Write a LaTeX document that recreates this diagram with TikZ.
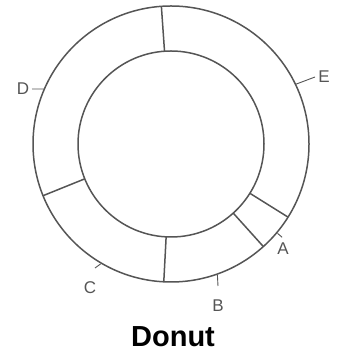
\documentclass[tikz,border=0pt]{standalone}
\usepackage{fontspec}
\usepackage{tikz}
\newfontfamily\donutfont{Liberation Sans}
\definecolor{DonutInk}{HTML}{555555}
\tikzset{
  ring/.style={DonutInk,line width=1.5pt},
  tickline/.style={DonutInk,line width=0.9pt},
  tag/.style={DonutInk,font=\donutfont\fontsize{17}{17}\selectfont,inner sep=0pt},
}

\begin{document}
\begin{tikzpicture}[x=1pt,y=1pt]
        \useasboundingbox (0,0) rectangle (339,355);
        \begin{scope}[shift={(171,211)}]
        \coordinate (ctr) at (0,0);
        \draw[ring] (ctr) circle[radius=138];
        \draw[ring] (ctr) circle[radius=93];
        % dividers
        \foreach \ang in {94,202,267,312,328}
          \draw[ring] (\ang:93) -- (\ang:138);
        % labels
        \node[tag] (lblD) at (-148,55) {D};
        \coordinate (tD) at (156.5:138);
        \coordinate (tD2) at (-139,55);
        \draw[tickline] (tD) -- (tD2);
        \node[tag] (lblE) at (153,67) {E};
        \coordinate (tE) at (25.6:138);
        \coordinate (tE2) at (144,67);
        \draw[tickline] (tE) -- (tE2);
        \node[tag] (lblA) at (112,-105) {A};
        \coordinate (tA) at (-40:139);
        \coordinate (tA2) at (-40:145);
        \draw[tickline] (tA) -- (tA2);
        \node[tag] (lblB) at (47,-162) {B};
        \coordinate (tB) at (-70.5:139);
        \coordinate (tB2) at (47,-142);
        \draw[tickline] (tB) -- (tB2);
        \node[tag] (lblC) at (-81,-144) {C};
        \coordinate (tC) at (239.6:139);
        \coordinate (tC2) at (-76,-124);
        \draw[tickline] (tC) -- (tC2);
        \node[font=\donutfont\bfseries\fontsize{29}{29}\selectfont] (title) at (2,-193) {Donut};
        \end{scope}
      \end{tikzpicture}
\end{document}
